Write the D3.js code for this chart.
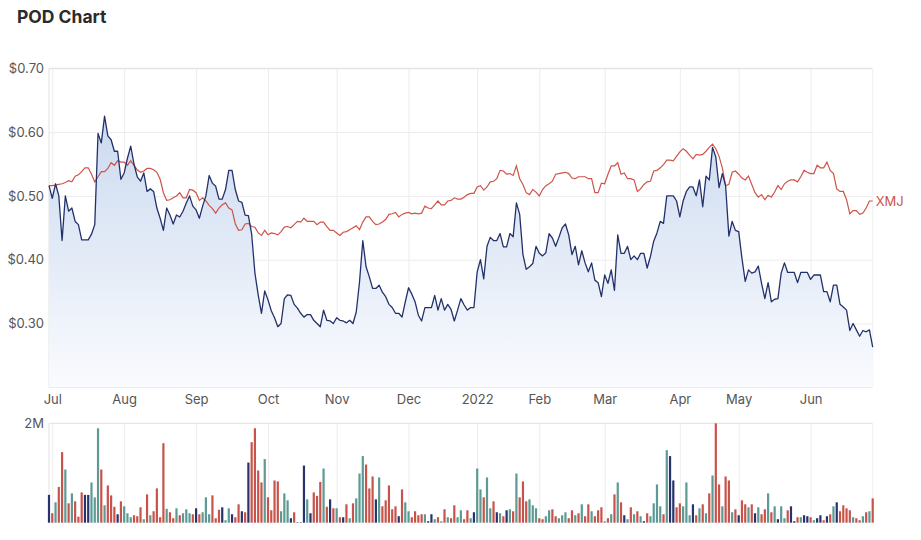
<!DOCTYPE html>
<html>
<head>
<meta charset="utf-8">
<script src="https://cdn.jsdelivr.net/npm/d3@7"></script>
<style>
  body { margin: 0; background: #fff; font-family: Inter, "Noto Sans", sans-serif; }
  .axis text { fill: #555; font-size: 13px; font-family: Inter, sans-serif; }
  .axis path, .axis line { stroke: none; }
  .grid line { stroke: #ececec; stroke-width: 1; }
  .grid path { stroke: none; }
</style>
</head>
<body>
<script>
// POD closing price, one value per trading day (30 Jun 2021 - 29 Jun 2022)
var podPrice = [
0.516,0.496,0.519,0.50,0.43,0.50,0.476,0.481,0.46,0.455,
0.431,0.431,0.431,0.44,0.455,0.598,0.583,0.625,0.594,0.588,
0.57,0.57,0.526,0.536,0.559,0.578,0.55,0.53,0.523,0.536,
0.507,0.511,0.507,0.481,0.465,0.446,0.481,0.47,0.456,0.47,
0.467,0.476,0.489,0.50,0.484,0.478,0.465,0.484,0.50,0.532,
0.52,0.515,0.495,0.495,0.51,0.54,0.54,0.51,0.492,0.49,
0.47,0.469,0.44,0.379,0.345,0.316,0.351,0.337,0.32,0.309,
0.295,0.30,0.339,0.345,0.344,0.33,0.324,0.316,0.31,0.314,
0.314,0.305,0.30,0.295,0.321,0.305,0.304,0.30,0.309,0.305,
0.304,0.301,0.305,0.30,0.318,0.365,0.43,0.389,0.373,0.355,
0.355,0.36,0.349,0.342,0.33,0.325,0.316,0.316,0.31,0.334,
0.356,0.346,0.334,0.313,0.304,0.325,0.325,0.325,0.344,0.321,
0.339,0.321,0.33,0.322,0.304,0.321,0.339,0.329,0.321,0.325,
0.325,0.381,0.40,0.37,0.421,0.435,0.43,0.43,0.441,0.42,
0.42,0.441,0.436,0.489,0.471,0.408,0.385,0.389,0.394,0.421,
0.41,0.406,0.411,0.441,0.434,0.421,0.435,0.45,0.456,0.439,
0.408,0.421,0.392,0.414,0.395,0.381,0.395,0.368,0.364,0.342,
0.376,0.363,0.384,0.352,0.439,0.41,0.41,0.421,0.40,0.406,
0.40,0.41,0.41,0.387,0.405,0.429,0.442,0.46,0.457,0.50,
0.50,0.50,0.492,0.467,0.492,0.507,0.514,0.514,0.50,0.525,
0.483,0.531,0.525,0.576,0.561,0.513,0.535,0.516,0.437,0.46,
0.446,0.444,0.402,0.366,0.384,0.379,0.381,0.39,0.363,0.339,
0.364,0.334,0.338,0.339,0.379,0.395,0.38,0.38,0.38,0.364,
0.38,0.38,0.38,0.369,0.376,0.376,0.376,0.35,0.35,0.334,
0.36,0.36,0.33,0.326,0.321,0.289,0.30,0.29,0.28,0.289,
0.287,0.29,0.263
];

// XMJ index rebased to POD's first close
var xmjPrice = [
0.516,0.516,0.517,0.518,0.519,0.521,0.524,0.522,0.531,0.533,
0.538,0.544,0.544,0.534,0.522,0.53,0.538,0.538,0.543,0.552,
0.548,0.555,0.553,0.553,0.548,0.555,0.548,0.541,0.537,0.539,
0.543,0.543,0.541,0.537,0.526,0.505,0.493,0.494,0.497,0.50,
0.505,0.497,0.497,0.51,0.509,0.505,0.493,0.497,0.492,0.485,
0.48,0.473,0.481,0.486,0.489,0.481,0.478,0.456,0.446,0.447,
0.456,0.457,0.452,0.451,0.442,0.438,0.446,0.439,0.442,0.441,
0.439,0.444,0.451,0.452,0.45,0.455,0.46,0.459,0.465,0.46,
0.46,0.46,0.455,0.459,0.459,0.452,0.446,0.446,0.442,0.438,
0.443,0.444,0.447,0.45,0.453,0.447,0.459,0.467,0.467,0.46,
0.455,0.456,0.459,0.463,0.471,0.472,0.474,0.467,0.471,0.473,
0.474,0.472,0.473,0.472,0.473,0.484,0.481,0.48,0.486,0.492,
0.486,0.486,0.492,0.493,0.497,0.495,0.495,0.498,0.502,0.504,
0.504,0.514,0.516,0.509,0.514,0.522,0.523,0.527,0.54,0.539,
0.534,0.535,0.532,0.547,0.527,0.518,0.505,0.502,0.51,0.506,
0.50,0.51,0.516,0.519,0.523,0.534,0.535,0.536,0.537,0.535,
0.528,0.527,0.53,0.53,0.53,0.527,0.527,0.505,0.505,0.52,
0.519,0.534,0.547,0.547,0.552,0.534,0.536,0.527,0.527,0.525,
0.507,0.511,0.518,0.522,0.523,0.539,0.54,0.544,0.549,0.556,
0.556,0.555,0.562,0.569,0.574,0.57,0.564,0.558,0.565,0.564,
0.565,0.57,0.576,0.581,0.574,0.562,0.544,0.516,0.518,0.537,
0.539,0.534,0.528,0.525,0.531,0.518,0.505,0.498,0.502,0.494,
0.501,0.498,0.506,0.516,0.51,0.519,0.523,0.525,0.525,0.522,
0.53,0.54,0.537,0.535,0.535,0.548,0.544,0.544,0.553,0.54,
0.535,0.511,0.507,0.507,0.494,0.472,0.477,0.477,0.471,0.473,
0.481,0.492,0.492
];

// daily volume, millions of shares
var volume = [
0.56,0.19,0.41,0.72,1.42,1.07,0.39,0.59,0.43,0.12,
0.61,0.56,0.56,0.81,0.51,1.9,1.07,0.35,0.75,0.55,
0.32,0.17,0.43,0.33,0.19,0.11,0.15,0.13,0.31,0.07,
0.57,0.15,0.23,0.69,0.11,1.6,0.28,0.21,0.09,0.29,
0.15,0.19,0.27,0.19,0.17,0.29,0.17,0.21,0.51,0.17,
0.55,0.09,0.26,0.31,0.05,0.29,0.17,0.11,0.37,0.23,
0.21,1.21,1.62,1.9,1.05,0.81,1.28,0.51,0.25,0.85,
0.83,0.23,0.59,0.45,0.09,0.21,0.01,0.01,1.15,0.47,
0.19,0.61,0.54,0.82,1.09,0.32,0.47,0.29,0.29,0.11,
0.11,0.37,0.09,0.39,0.49,0.99,1.34,1.17,0.69,0.93,
0.47,0.91,0.33,0.45,0.75,0.27,0.33,0.13,0.67,0.41,
0.23,0.11,0.23,0.15,0.17,0.17,0.03,0.17,0.07,0.11,
0.03,0.27,0.11,0.09,0.35,0.11,0.25,0.07,0.25,0.09,
0.21,1.09,0.67,0.51,0.91,0.29,0.43,0.21,0.19,0.13,
0.25,0.27,0.23,0.99,0.51,0.83,0.43,0.47,0.35,0.29,
0.09,0.07,0.13,0.25,0.27,0.13,0.09,0.15,0.21,0.09,
0.25,0.15,0.19,0.37,0.13,0.37,0.23,0.13,0.25,0.31,
0.03,0.09,0.17,0.57,0.81,0.41,0.15,0.07,0.31,0.17,
0.23,0.13,0.03,0.19,0.13,0.39,0.77,0.33,0.17,1.46,
1.34,0.85,0.31,0.39,0.33,0.81,0.15,0.37,0.15,0.29,
0.37,0.19,0.59,0.95,2.0,0.77,0.33,0.93,0.85,0.21,
0.27,0.15,0.45,0.37,0.31,0.37,0.19,0.31,0.17,0.27,
0.59,0.21,0.33,0.07,0.33,0.09,0.25,0.33,0.03,0.11,
0.11,0.15,0.13,0.11,0.05,0.09,0.15,0.05,0.13,0.17,
0.33,0.41,0.23,0.35,0.29,0.25,0.11,0.09,0.05,0.13,
0.21,0.23,0.49
];

// u = up day, d = down day, n = unchanged
var volumeDir = (
"nduddududd dnnuuududd dnduuudddu dudddduddu duuudnduuu " +
"dddnuunddn dndddduddd duuundnnnu ndddudndud nduduuuddd " +
"nudddddndu uddddunnud ududduuddu nuuduudnud nududdduuu " +
"dduudduuud dududduddd udududnudu dunduuuudu nndduuundu " +
"dududduddu dnddudnudd udunuudnnd unndunndnd undddduddu dud"
).replace(/ /g, "").split("");

// first trading day of each month (index into the series) and its label
var monthIdx = [1, 23, 45, 67, 88, 110, 131, 150, 170, 193, 211, 233];
var monthLabels = ["Jul","Aug","Sep","Oct","Nov","Dec","2022","Feb","Mar","Apr","May","Jun"];
var priceTicks = [0.3, 0.4, 0.5, 0.6, 0.7];

var width = 921, height = 540;
var left = 49, right = 872.7;
var priceTop = 68.3, priceBottom = 387.3;
var volTop = 423.3, volBottom = 522.7;

var svg = d3.select("body").append("svg")
    .attr("width", width).attr("height", height);

// Scales
var x = d3.scaleLinear().domain([0, podPrice.length - 1]).range([left, right]);
var y = d3.scaleLinear().domain([0.2, 0.7]).range([priceBottom, priceTop]);
var yVol = d3.scaleLinear().domain([0, 2]).range([volBottom, volTop]);

var dirColor = { u: "#5c9a93", d: "#c8534a", n: "#27336a" };

// gradient for the area
var grad = svg.append("defs").append("linearGradient")
    .attr("id", "podFill").attr("gradientUnits", "userSpaceOnUse")
    .attr("x1", 0).attr("x2", 0).attr("y1", priceTop).attr("y2", priceBottom);
grad.append("stop").attr("offset", "0%").attr("stop-color", "#c3d4ed");
grad.append("stop").attr("offset", "100%").attr("stop-color", "#fafbfe");

// title
svg.append("text").attr("x", 17).attr("y", 23)
    .style("font-family", "Inter, sans-serif").style("font-weight", 700)
    .style("font-size", "17.5px").style("fill", "#2b2b2b")
    .text("POD Chart");

// Grids - price panel
svg.append("g").attr("class", "grid")
    .attr("transform", "translate(0," + priceBottom + ")")
    .call(d3.axisBottom(x).tickValues(monthIdx).tickSize(-(priceBottom - priceTop)).tickFormat(""));
svg.append("g").attr("class", "grid")
    .attr("transform", "translate(" + left + ",0)")
    .call(d3.axisLeft(y).tickValues(priceTicks).tickSize(-(right - left)).tickFormat(""));
// Grids - volume panel
svg.append("g").attr("class", "grid")
    .attr("transform", "translate(0," + volBottom + ")")
    .call(d3.axisBottom(x).tickValues(monthIdx).tickSize(-(volBottom - volTop)).tickFormat(""));

// frame lines
var frame = svg.append("g").attr("stroke", "#e2e2e2").attr("stroke-width", 1);
frame.append("line").attr("x1", left).attr("x2", right).attr("y1", priceBottom).attr("y2", priceBottom);
frame.append("line").attr("x1", left).attr("x2", right).attr("y1", priceTop).attr("y2", priceTop);
frame.append("line").attr("x1", left).attr("x2", left).attr("y1", priceTop).attr("y2", priceBottom);
frame.append("line").attr("x1", right).attr("x2", right).attr("y1", priceTop).attr("y2", priceBottom).attr("stroke", "#f0f0f0");
frame.append("line").attr("x1", left).attr("x2", right).attr("y1", volTop).attr("y2", volTop);
frame.append("line").attr("x1", left).attr("x2", left).attr("y1", volTop).attr("y2", volBottom);
frame.append("line").attr("x1", right).attr("x2", right).attr("y1", volTop).attr("y2", volBottom).attr("stroke", "#f0f0f0");

// Generators
var area = d3.area()
    .x(function(d, i) { return x(i); })
    .y0(priceBottom)
    .y1(function(d) { return y(d); });
var line = d3.line()
    .x(function(d, i) { return x(i); })
    .y(function(d) { return y(d); });

svg.append("path").attr("d", area(podPrice)).attr("fill", "url(#podFill)");
svg.append("path").attr("d", line(xmjPrice))
    .attr("fill", "none").attr("stroke", "#cd5449").attr("stroke-width", 1.2);
svg.append("path").attr("d", line(podPrice))
    .attr("fill", "none").attr("stroke", "#23316a").attr("stroke-width", 1.3)
    .attr("stroke-linejoin", "round");

svg.append("text")
    .attr("x", x(xmjPrice.length - 1) + 3)
    .attr("y", y(xmjPrice[xmjPrice.length - 1]))
    .attr("dy", "0.35em")
    .style("font-size", "13px").style("fill", "#cd5449")
    .text("XMJ");

// Volume bars
var barW = 2.2;
svg.append("g").selectAll("rect")
    .data(volume)
    .enter().append("rect")
    .attr("x", function(d, i) { return x(i) - barW / 2; })
    .attr("y", function(d) { return yVol(d); })
    .attr("width", barW)
    .attr("height", function(d) { return volBottom - yVol(d); })
    .attr("fill", function(d, i) { return dirColor[volumeDir[i]]; });

// Axes
svg.append("g").attr("class", "axis")
    .attr("transform", "translate(" + left + ",0)")
    .call(d3.axisLeft(y).tickValues(priceTicks).tickSize(0).tickPadding(5)
        .tickFormat(d3.format("$.2f")));
svg.append("g").attr("class", "axis")
    .attr("transform", "translate(0," + priceBottom + ")")
    .call(d3.axisBottom(x).tickValues(monthIdx).tickSize(0).tickPadding(7)
        .tickFormat(function(d, i) { return monthLabels[i]; }));
svg.append("g").attr("class", "axis")
    .attr("transform", "translate(" + left + ",0)")
    .call(d3.axisLeft(yVol).tickValues([2]).tickSize(0).tickPadding(5)
        .tickFormat(function(d) { return d + "M"; }));
</script>
</body>
</html>
